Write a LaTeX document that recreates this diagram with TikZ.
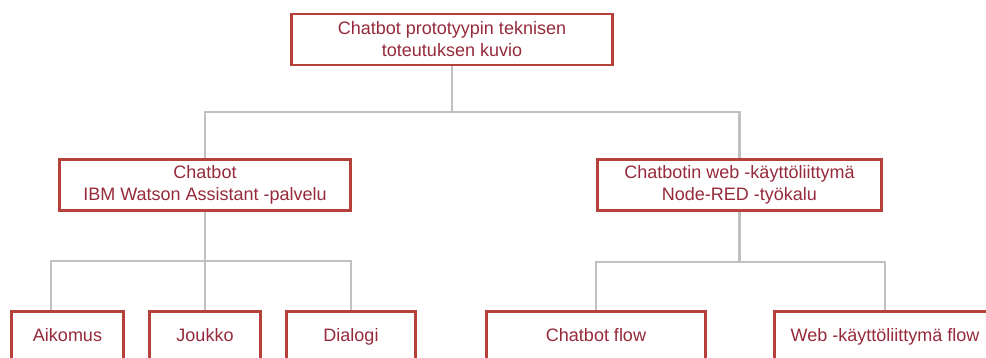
\documentclass[tikz,border=0pt]{standalone}
\usepackage{fontspec}
\setmainfont{Liberation Sans}
\usepackage{tikz}
\usetikzlibrary{backgrounds}
\definecolor{boxred}{RGB}{180,66,58}
\definecolor{textred}{RGB}{150,42,58}
\definecolor{linkgray}{RGB}{192,192,192}

\begin{document}
\begin{tikzpicture}[x=1pt,y=-1pt,
    box/.style={draw=boxred,line width=2.7pt,fill=white,text=textred,
        align=center,inner sep=0pt,minimum height=51pt,
        font=\fontsize{18}{22}\selectfont},
    leaf/.style={box,text height=13pt,text depth=4pt},
    link/.style={draw=linkgray,line width=2.4pt}]
    \useasboundingbox (0,0) rectangle (986,358);
    \clip (0,0) rectangle (986,358);

    \coordinate (busA) at (0,112);
    \coordinate (busB) at (0,261);
    \coordinate (busC) at (0,262);

    \node[box,minimum width=321pt] (proto) at (452,39.5)
        {Chatbot prototyypin teknisen\\toteutuksen kuvio};

    \node[box,minimum width=291pt] (watson) at (205,185)
        {Chatbot\\IBM Watson Assistant -palvelu};
    \node[box,minimum width=284pt] (nodered) at (739.5,185)
        {Chatbotin web -käyttöliittymä\\Node-RED -työkalu};

    \node[leaf,minimum width=112pt] (aikomus) at (67.5,337) {Aikomus};
    \node[leaf,minimum width=111pt] (joukko) at (205,337) {Joukko};
    \node[leaf,minimum width=129pt] (dialogi) at (351,337) {Dialogi};
    \node[leaf,minimum width=219pt] (chatflow) at (596,337) {Chatbot flow};
    \node[leaf,minimum width=221pt] (webflow) at (885,337) {Web -käyttöliittymä flow};

    \begin{scope}[on background layer]
        \draw[link] (proto.south) -- (proto.south |- busA) -| (watson.north);
        \draw[link] (proto.south |- busA) -| (nodered.north);

        \draw[link] (watson.south) -- (watson.south |- busB)
            -| ([xshift=-16.5pt]aikomus.north);
        \draw[link] (watson.south |- busB) -- (joukko.north);
        \draw[link] (watson.south |- busB) -| (dialogi.north);

        \draw[link] (nodered.south) -- (nodered.south |- busC) -| (chatflow.north);
        \draw[link] (nodered.south |- busC) -| (webflow.north);
    \end{scope}

\end{tikzpicture}
\end{document}
